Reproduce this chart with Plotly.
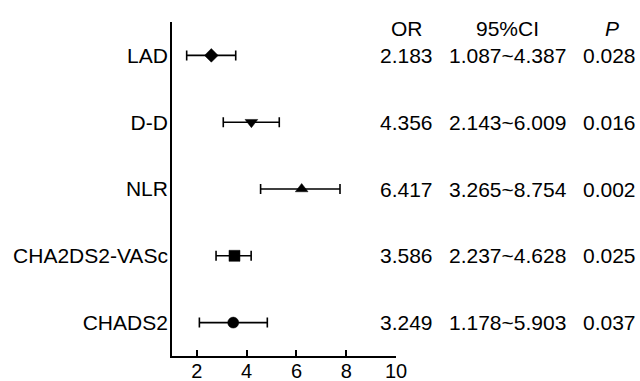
import plotly.graph_objects as go

# Data
labels = ["CHADS2", "CHA2DS2-VASc", "NLR", "D-D", "LAD"]
rows = [1, 2, 3, 4, 5]
est = [3.46, 3.51, 6.21, 4.19, 2.58]
low = [2.10, 2.77, 4.56, 3.06, 1.59]
high = [4.83, 4.18, 7.75, 5.31, 3.56]
symbols = ["circle", "square", "triangle-up", "triangle-down", "diamond"]
or_text = ["3.249", "3.586", "6.417", "4.356", "2.183"]
ci_text = ["1.178~5.903", "2.237~4.628", "3.265~8.754", "2.143~6.009", "1.087~4.387"]
p_text = ["0.037", "0.025", "0.002", "0.016", "0.028"]
headers = ["OR", "95%CI", "<i>P</i>"]
x_ticks = [2, 4, 6, 8, 10]

FONT = "Liberation Sans, Arial, Helvetica, sans-serif"
FS = 21

fig = go.Figure()
fig.add_trace(go.Scatter(
    x=est, y=rows, mode="markers",
    marker=dict(symbol=symbols, size=[11, 11, 11, 11, 10.5], color="black",
                opacity=1, line=dict(width=0.5, color="black")),
    error_x=dict(type="data", symmetric=False,
                 array=[h - e for h, e in zip(high, est)],
                 arrayminus=[e - l for e, l in zip(est, low)],
                 color="black", thickness=1.6, width=5),
    showlegend=False, cliponaxis=False,
))

col_x = [1.047, 1.498, 1.953]
head_x = [1.047, 1.498, 1.964]
for hx, h in zip(head_x, headers):
    fig.add_annotation(x=hx, y=1.0, xref="paper", yref="paper", yanchor="middle",
                       xanchor="center", text=h, showarrow=False, yshift=-6,
                       font=dict(family=FONT, size=FS, color="black"))
for r, a, b, c in zip(rows, or_text, ci_text, p_text):
    for cx, t in zip(col_x, [a, b, c]):
        fig.add_annotation(x=cx, y=r, xref="paper", yref="y", text=t, showarrow=False,
                           xanchor="center",
                           font=dict(family=FONT, size=FS, color="black"))

fig.update_layout(
    width=640, height=381,
    margin=dict(l=172, r=244, t=22, b=25),
    paper_bgcolor="white", plot_bgcolor="white",
    font=dict(family=FONT, size=FS, color="black"),
    xaxis=dict(range=[1, 10], tickvals=x_ticks, ticks="inside", ticklen=6,
               tickwidth=1.8, tickcolor="black", showline=True, linecolor="black",
               linewidth=1.8, showgrid=False, zeroline=False, ticklabelstandoff=-4,
               tickfont=dict(size=20), automargin=False),
    yaxis=dict(range=[0.5, 5.5], tickvals=rows, ticktext=labels, showline=True,
               linecolor="black", linewidth=1.8, showgrid=False, zeroline=False,
               ticks="", ticklabelstandoff=-2, automargin=False),
)

fig.write_html("out.html", config={"displayModeBar": False},
               post_script="document.body.style.margin='0';")
